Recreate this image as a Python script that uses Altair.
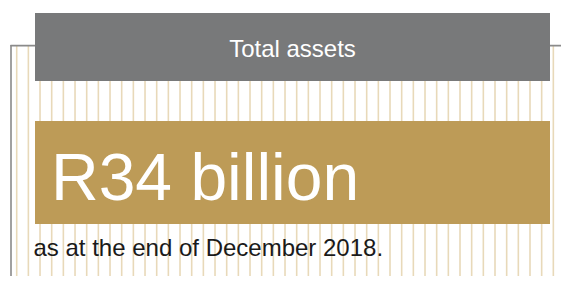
import altair as alt
import pandas as pd

# Content
title_text = ["Total assets"]
headline_text = ["R34 billion"]
note_text = ["as at the end of December 2018."]
stripe_index = list(range(48))

# Page has an 8px margin; keep the SVG inside the 569x284 window
W, H = 553, 268

stripes = pd.DataFrame({"i": stripe_index})
one = pd.DataFrame({"a": [0]})

stripe_layer = alt.Chart(stripes).mark_rule(color="#e8d9b9", strokeWidth=1.6).encode(
    x=alt.X("i:Q", scale=alt.Scale(domain=[0, 47], range=[8.7, 557]), axis=None),
    y=alt.value(38),
    y2=alt.value(H),
)

frame_top = alt.Chart(one).mark_rule(color="#8a8a8a", strokeWidth=1.6).encode(
    x=alt.value(2.5), x2=alt.value(W), y=alt.value(37.6)
)
frame_left = alt.Chart(one).mark_rule(color="#8a8a8a", strokeWidth=1.6).encode(
    x=alt.value(3), y=alt.value(37), y2=alt.value(H)
)

gray_box = alt.Chart(one).mark_rect(color="#78797a").encode(
    x=alt.value(27), x2=alt.value(542), y=alt.value(5), y2=alt.value(73)
)
gold_box = alt.Chart(one).mark_rect(color="#bd9b57").encode(
    x=alt.value(27), x2=alt.value(542), y=alt.value(113), y2=alt.value(216)
)

title = alt.Chart(pd.DataFrame({"t": title_text})).mark_text(
    font="Liberation Sans", fontSize=24, color="white", align="center", baseline="alphabetic"
).encode(text="t:N", x=alt.value(284.5), y=alt.value(48.5))

headline = alt.Chart(pd.DataFrame({"t": headline_text})).mark_text(
    font="Liberation Sans", fontSize=66, color="white", align="left", baseline="alphabetic"
).encode(text="t:N", x=alt.value(43), y=alt.value(192))

note = alt.Chart(pd.DataFrame({"t": note_text})).mark_text(
    font="Liberation Sans", fontSize=24, color="#1a1a1a", align="left", baseline="alphabetic"
).encode(text="t:N", x=alt.value(25.5), y=alt.value(248))

chart = alt.layer(
    stripe_layer, frame_top, frame_left, gray_box, gold_box, title, headline, note
).properties(
    width=W, height=H, autosize=alt.AutoSizeParams(type="none"), padding=0
).configure_view(stroke=None)

chart.save("out.html", embed_options={"renderer": "svg", "actions": False})
